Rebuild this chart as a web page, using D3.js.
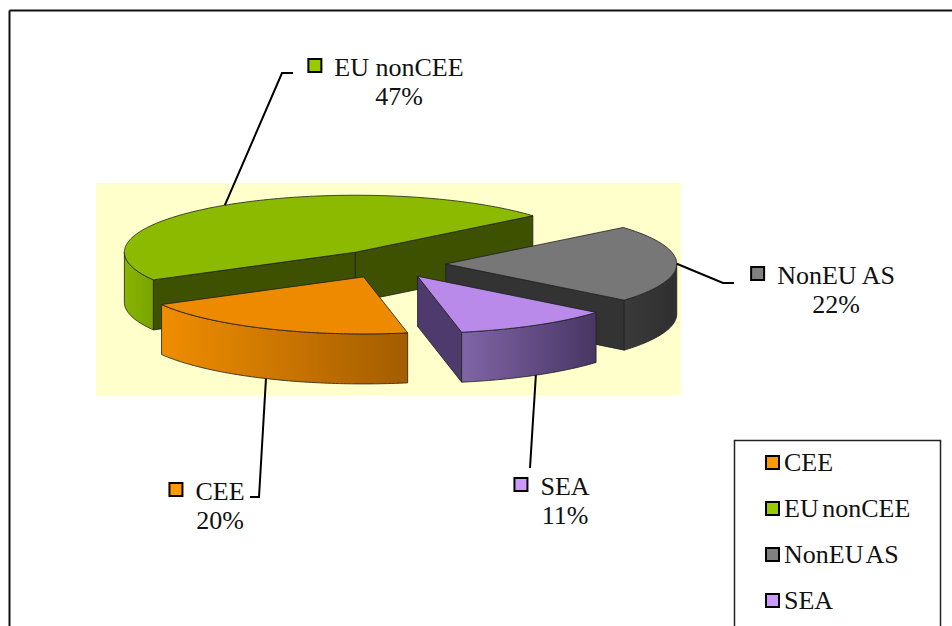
<!DOCTYPE html>
<html>
<head>
<meta charset="utf-8">
<script src="https://cdn.jsdelivr.net/npm/d3@7"></script>
<style>
  html, body { margin: 0; padding: 0; background: #ffffff; }
  svg { display: block; }
</style>
</head>
<body>
<svg id="chart" width="952" height="626"></svg>
<script>
// Data
const categories = ["CEE", "EU nonCEE", "NonEU AS", "SEA"];
const shares = [20, 47, 22, 11];
const percentLabels = ["20%", "47%", "22%", "11%"];

// Styles
const swatchColors = ["#ff9900", "#99cc00", "#808080", "#cc99ff"];
const topColors = ["#ee8a00", "#8cba00", "#777777", "#b98ae9"];
const sideColors = ["#8a5000", "#3e5100", "#333333", "#4e3a6c"];
const wallColors = [["#f08d00", "#a35d00"], ["#88b500", "#7aa300"], ["#3a3a3a", "#2f2f2f"], ["#8065a6", "#483664"]];
const serif = "Liberation Serif, DejaVu Serif";

const svg = d3.select("#chart");
const W = 952, H = 626;
const rad = Math.PI / 180;

// Frame
svg.append("line").attr("x1", 9.5).attr("y1", 10.5).attr("x2", W).attr("y2", 10.5)
  .attr("stroke", "#111").attr("stroke-width", 2);
svg.append("line").attr("x1", 9.5).attr("y1", 10.5).attr("x2", 9.5).attr("y2", H)
  .attr("stroke", "#111").attr("stroke-width", 2);

// Plot area
svg.append("rect").attr("x", 96).attr("y", 183).attr("width", 585).attr("height", 212)
  .attr("fill", "#ffffcc");

// 3D pie geometry (ellipse projection with extruded walls)
const pie3d = { cx: 388, cy: 264, rx: 231, ry: 57, depth: 50, explode: 0.25, start: 169 };
const arcs = d3.pie().sort(null)
  .startAngle(pie3d.start * rad)
  .endAngle((pie3d.start + 360) * rad)(shares);

function proj(o, a, r, h) {
  return [o[0] + r * pie3d.rx * Math.sin(a), o[1] - r * pie3d.ry * Math.cos(a) + h];
}
function rim(o, a0, a1, h) {
  const n = Math.max(2, Math.ceil(Math.abs(a1 - a0) / rad));
  return d3.range(n + 1).map(i => proj(o, a0 + (a1 - a0) * i / n, 1, h));
}
const line = d3.line();
const defs = svg.append("defs");

const slices = arcs.map((d, i) => {
  const mid = (d.startAngle + d.endAngle) / 2;
  const o = [pie3d.cx + pie3d.explode * pie3d.rx * Math.sin(mid),
             pie3d.cy - pie3d.explode * pie3d.ry * Math.cos(mid)];
  return { i, a0: d.startAngle, a1: d.endAngle, mid, o };
});

const pieG = svg.append("g");
const strokeCol = "#1e1e1e";

slices.slice().sort((a, b) => a.o[1] - b.o[1]).forEach(s => {
  const g = pieG.append("g");
  const { o, a0, a1, i } = s;
  const D = pie3d.depth;

  // cut faces facing the viewer
  const faces = [];
  if (Math.sin(a0) < 0) faces.push(a0);
  if (Math.sin(a1) > 0) faces.push(a1);
  faces.forEach(a => {
    const p = [ [o[0], o[1]], proj(o, a, 1, 0), proj(o, a, 1, D), [o[0], o[1] + D] ];
    g.append("path").attr("d", line(p) + "Z")
      .attr("fill", sideColors[i]).attr("stroke", strokeCol).attr("stroke-width", 0.8)
      .attr("stroke-linejoin", "round");
  });

  // outer wall on the front half
  [0, 1].forEach(k => {
    const lo = Math.max(a0, Math.PI / 2 + 2 * Math.PI * k);
    const hi = Math.min(a1, 3 * Math.PI / 2 + 2 * Math.PI * k);
    if (hi <= lo) return;
    const top = rim(o, lo, hi, 0);
    const bot = rim(o, hi, lo, D);
    const pts = top.concat(bot);
    const xs = pts.map(p => p[0]);
    const gid = "wall" + i + "_" + k;
    const grad = defs.append("linearGradient").attr("id", gid)
      .attr("gradientUnits", "userSpaceOnUse")
      .attr("x1", d3.min(xs)).attr("x2", d3.max(xs)).attr("y1", 0).attr("y2", 0);
    grad.append("stop").attr("offset", 0).attr("stop-color", wallColors[i][0]);
    grad.append("stop").attr("offset", 1).attr("stop-color", wallColors[i][1]);
    g.append("path").attr("d", line(pts) + "Z")
      .attr("fill", `url(#${gid})`).attr("stroke", strokeCol).attr("stroke-width", 0.8)
      .attr("stroke-linejoin", "round");
  });

  // top face
  const topPts = [[o[0], o[1]]].concat(rim(o, a0, a1, 0));
  g.append("path").attr("d", line(topPts) + "Z")
    .attr("fill", topColors[i]).attr("stroke", strokeCol).attr("stroke-width", 0.8)
    .attr("stroke-linejoin", "round");
});

// Data labels with leader lines
const labelLayout = [
  { x: 220, y: 500, from: "bottom", path: [[259, 497], [250, 497]] },
  { x: 399, y: 76,  from: "top",    path: [[282, 73], [293, 73]] },
  { x: 836, y: 284, from: "top",    path: [[723, 283], [734, 283]] },
  { x: 565, y: 495, from: "bottom", path: [[530, 468]] }
];
const fontSize = 26;
const labG = svg.append("g");

slices.forEach(s => {
  const L = labelLayout[s.i];
  const startPt = proj(s.o, s.mid, 1, L.from === "bottom" ? pie3d.depth : 0);
  labG.append("path").attr("d", line([startPt].concat(L.path)))
    .attr("fill", "none").attr("stroke", "#000").attr("stroke-width", 2)
    .attr("stroke-linejoin", "miter");

  const name = labG.append("text").attr("x", L.x).attr("y", L.y)
    .attr("text-anchor", "middle").attr("font-size", fontSize)
    .style("font-family", serif).attr("fill", "#111")
    .text(categories[s.i]);
  const w = name.node().getComputedTextLength();
  labG.append("text").attr("x", L.x).attr("y", L.y + 29)
    .attr("text-anchor", "middle").attr("font-size", fontSize)
    .style("font-family", serif).attr("fill", "#111")
    .text(percentLabels[s.i]);
  labG.append("rect").attr("x", L.x - w / 2 - 26).attr("y", L.y - 17)
    .attr("width", 13).attr("height", 13)
    .attr("fill", swatchColors[s.i]).attr("stroke", "#000").attr("stroke-width", 2);
});

// Legend
const legend = svg.append("g");
legend.append("rect").attr("x", 734.5).attr("y", 440.5).attr("width", 206).attr("height", 200)
  .attr("fill", "#fff").attr("stroke", "#222").attr("stroke-width", 1.5);
categories.forEach((c, i) => {
  const y = 471 + i * 46;
  legend.append("rect").attr("x", 766).attr("y", y - 15).attr("width", 13).attr("height", 13)
    .attr("fill", swatchColors[i]).attr("stroke", "#000").attr("stroke-width", 2);
  legend.append("text").attr("x", 784).attr("y", y).attr("font-size", fontSize)
    .style("font-family", serif).attr("fill", "#111")
    .attr("word-spacing", -3).text(c);
});
</script>
</body>
</html>
